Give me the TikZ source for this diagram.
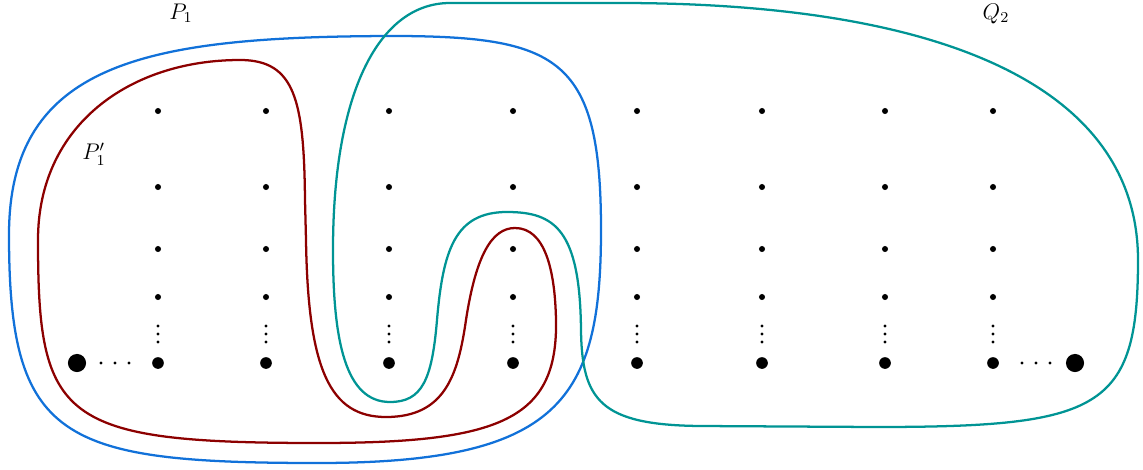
\documentclass[tikz,border=0pt]{standalone}
\usepackage{amsmath}
\usepackage{amssymb}
\usepackage{tikz}
\usepackage{xcolor}
\usetikzlibrary{positioning, calc}

\definecolor{pblue}{RGB}{17,113,217}
\definecolor{pred}{RGB}{140,0,0}
\definecolor{qteal}{RGB}{0,148,148}

\tikzset{
  gridpt/.style={circle, fill=black, inner sep=0pt, minimum size=3.2pt},
  basept/.style={circle, fill=black, inner sep=0pt, minimum size=6.2pt},
  endpt/.style={circle, fill=black, inner sep=0pt, minimum size=9.6pt},
  gappt/.style={circle, fill=black, inner sep=0pt, minimum size=1.8pt},
  pathone/.style={draw=pblue, line width=1.2pt},
  pathsub/.style={draw=pred, line width=1.2pt},
  pathtwo/.style={draw=qteal, line width=1.2pt},
  pathlabel/.style={font=\large}
}

\begin{document}
\begin{tikzpicture}[x=0.53pt, y=-0.53pt]
\useasboundingbox (0,0) rectangle (1143,470);

% grid of vertices
\foreach \x [count=\i] in {158,266,389,513,637,762,885,993} {
  \foreach \y [count=\j] in {111,187,249,297}
    \node[gridpt] (v\i-\j) at (\x,\y) {};
  \foreach \y [count=\k] in {326,334,342}
    \node[gappt] (g\i-\k) at (\x,\y) {};
  \node[basept] (b\i) at (\x,363) {};
}

% end vertices
\node[endpt] (s) at (77,363) {};
\node[endpt] (t) at (1075,363) {};
\foreach \x [count=\k] in {101,115,129}
  \node[gappt] (ls\k) at (\x,363) {};
\foreach \x [count=\k] in {1022,1036,1050}
  \node[gappt] (lt\k) at (\x,363) {};

% P_1
\draw[pathone] (400,36) .. controls (150,36) and (9,60) .. (9,235)
  .. controls (9,440) and (60,463) .. (318,463)
  .. controls (560,463) and (601,400) .. (601,230)
  .. controls (601,60) and (560,37) .. (400,36) -- cycle;

% P_1'
\draw[pathsub] (240,60) .. controls (295,60) and (304,100) .. (305,200)
  -- (306,240) .. controls (308,370) and (330,417) .. (386,417)
  .. controls (445,417) and (458,375) .. (466,320)
  .. controls (476,255) and (492,228) .. (515,228)
  .. controls (545,228) and (555,270) .. (556,320)
  .. controls (558,420) and (500,443) .. (318,443)
  .. controls (60,443) and (38,420) .. (38,240)
  .. controls (38,125) and (130,60) .. (240,60) -- cycle;

% Q_2
\draw[pathtwo] (450,3) -- (620,3) .. controls (950,3) and (1138,90) .. (1138,260)
  .. controls (1138,410) and (1100,427) .. (875,427)
  -- (700,426) .. controls (600,425) and (582,400) .. (581,330)
  .. controls (580,230) and (555,212) .. (507,212)
  .. controls (455,212) and (443,250) .. (437,320)
  .. controls (432,380) and (422,402) .. (390,402)
  .. controls (345,402) and (333,340) .. (333,250)
  .. controls (333,90) and (380,3) .. (450,3) -- cycle;

\node[pathlabel] (lp) at (181,13) {$P_1$};
\node[pathlabel] (lpp) at (94,154) {$P'_1$};
\node[pathlabel] (lq) at (996,14) {$Q_2$};
\end{tikzpicture}
\end{document}
